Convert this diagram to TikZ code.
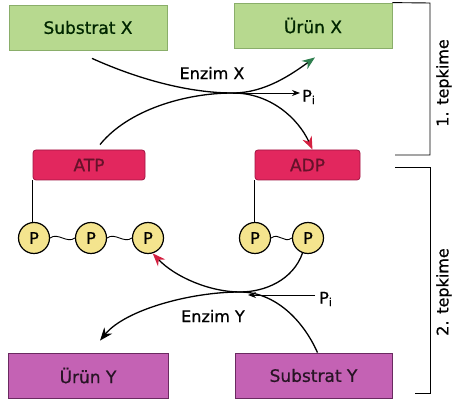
\documentclass[tikz,border=0pt]{standalone}
\usepackage{fontspec}
\setmainfont{DejaVu Sans}[FakeBold=0.8]
\usepackage{xcolor}
\usetikzlibrary{arrows.meta, positioning}

\definecolor{boxgreen}{HTML}{B7D98F}
\definecolor{boxgreenline}{HTML}{8AAE6A}
\definecolor{boxpurple}{HTML}{C462B4}
\definecolor{boxpurpleline}{HTML}{6A2A60}
\definecolor{boxred}{HTML}{E2275E}
\definecolor{boxredline}{HTML}{A01442}
\definecolor{pyellow}{HTML}{F4E48E}
\definecolor{headgreen}{HTML}{2F7F4F}
\definecolor{headred}{HTML}{D42040}

\begin{document}
\begin{tikzpicture}[x=1pt,y=-1pt]
\tikzstyle{greenbox}=[draw=boxgreenline,fill=boxgreen,line width=0.8pt,minimum width=158pt,minimum height=45pt,inner sep=0pt,text=black!85!green,font=\fontsize{17}{20}\selectfont]
\tikzstyle{purplebox}=[draw=boxpurpleline,fill=boxpurple,line width=0.8pt,minimum width=158pt,minimum height=45pt,inner sep=0pt,text=black!80!boxpurple,font=\fontsize{17}{20}\selectfont]
\tikzstyle{redbox}=[draw=boxredline,fill=boxred,line width=0.8pt,rounded corners=3pt,minimum height=30pt,inner sep=0pt,text=black!55!boxred,font=\fontsize{17}{20}\selectfont]
\tikzstyle{pcircle}=[circle,draw,line width=1.2pt,fill=pyellow,minimum size=31pt,inner sep=0pt,font=\fontsize{16}{18}\selectfont]
\tikzstyle{curve}=[line width=1.3pt]
\tikzstyle{label}=[font=\fontsize{16}{19}\selectfont]
\useasboundingbox (0,0) rectangle (456,403);

% boxes
\node[greenbox] (sx) at (88,27.5) {Substrat X};
\node[greenbox] (ux) at (313,25.5) {Ürün X};
\node[redbox,minimum width=112pt] (atp) at (89,165) {ATP};
\node[redbox,minimum width=105pt] (adp) at (307.5,165) {ADP};
\node[purplebox,minimum width=160pt] (uy) at (88,375.5) {Ürün Y};
\node[purplebox,minimum width=157pt] (sy) at (313.5,375.5) {Substrat Y};

% phosphates
\node[pcircle] (p1) at (34,238) {P};
\node[pcircle] (p2) at (91,238) {P};
\node[pcircle] (p3) at (148,238) {P};
\node[pcircle] (q1) at (255,238) {P};
\node[pcircle] (q2) at (308,238) {P};

\draw[line width=0.9pt] (atp.south west) -- (atp.south west |- p1.north);
\draw[line width=0.9pt] (adp.south west) -- (adp.south west |- q1.north);
\draw[line width=0.9pt] (p1.east) .. controls +(8,-6) and +(-8,6) .. (p2.west);
\draw[line width=0.9pt] (p2.east) .. controls +(8,-6) and +(-8,6) .. (p3.west);
\draw[line width=0.9pt] (q1.east) .. controls +(8,-6) and +(-8,6) .. (q2.west);

% 1. reaction
\coordinate (kx) at (233,93);
\draw[curve,-{Stealth[length=13pt,width=10pt,color=headgreen]}] ([xshift=4pt,yshift=-8pt]sx.south) .. controls (140,80) and (190,93) .. (kx) .. controls (265,93) and (292,74) .. ([xshift=2pt,yshift=-9pt]ux.south);
\draw[curve,-{Stealth[length=13pt,width=10pt,color=headred]}] ([xshift=11pt,yshift=5pt]atp.north) .. controls (128,110) and (185,93) .. (kx) .. controls (270,93) and (298,118) .. ([xshift=5pt]adp.north);
\node[label] (ex) at (212,73) {Enzim X};
\node[label,anchor=west,inner sep=2pt] (pix) at (300,97) {P\textsubscript{i}};
\draw[line width=0.8pt,-{Stealth[length=8pt,width=6pt]}] (kx) -- (kx -| pix.west);

% 2. reaction
\coordinate (ky) at (240,292);
\coordinate (kyp) at (248,295);
\draw[curve,-{Stealth[length=13pt,width=10pt,color=headred]}] (q2.250) .. controls (293,280) and (265,292) .. (ky) .. controls (210,292) and (175,277) .. (p3.287);
\draw[curve,-{Stealth[length=13pt,width=10pt]}] ([xshift=4pt]sy.north) .. controls (303,320) and (275,292) .. (ky) .. controls (190,292) and (125,310) .. ([xshift=12pt,yshift=12pt]uy.north);
\node[label] (ey) at (213,316) {Enzim Y};
\node[label,anchor=west,inner sep=4pt] (piy) at (315,299) {P\textsubscript{i}};
\draw[line width=0.8pt,-{Stealth[length=8pt,width=6pt]}] (piy.west |- kyp) -- (kyp);

% brackets
\draw[line width=0.9pt] (ux.north east) -- (430,3) -- (430,155) -- (395,155);
\draw[line width=0.9pt] (395,167) -- (430,167) -- (430,393) -- (415,393);
\node[label,rotate=90] (t1) at (444,83) {1. tepkime};
\node[label,rotate=90] (t2) at (444,292) {2. tepkime};

\end{tikzpicture}
\end{document}
